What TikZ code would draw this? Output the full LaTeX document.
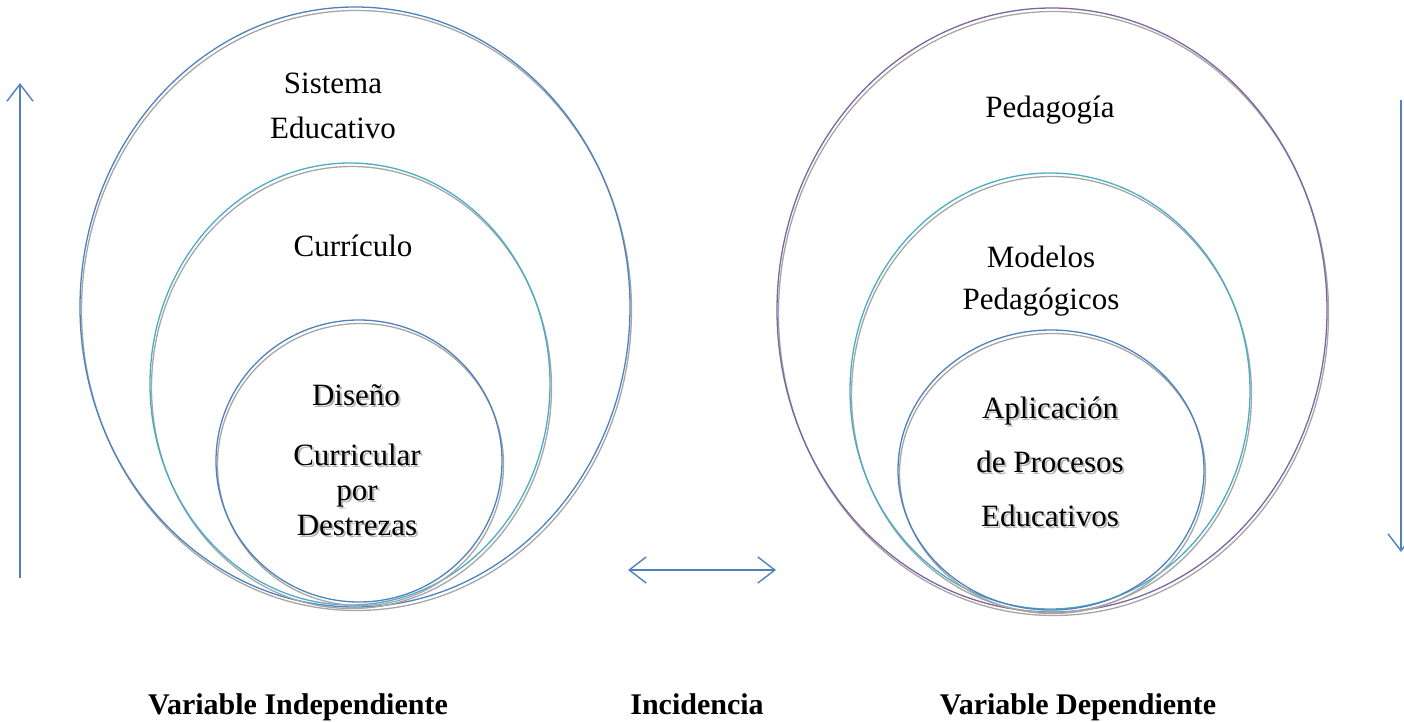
\documentclass[tikz,border=0pt]{standalone}
\usepackage{fontspec}
\setmainfont{Liberation Serif}
\usepackage{tikz}
\usetikzlibrary{
	arrows.meta,
	shapes.geometric
}

\definecolor{ringblue}{HTML}{4F81BD}
\definecolor{ringteal}{HTML}{4BACC6}
\definecolor{ringpurple}{HTML}{8064A2}
\definecolor{ringgray}{HTML}{A6A6A6}

\newcommand{\shadowed}[1]{%
	\makebox[0pt][l]{\raisebox{-2.5pt}{\hspace{2pt}\textcolor{ringgray!80}{#1}}}#1}

\begin{document}
\begin{tikzpicture} [
		x = 1pt,
		y = -1pt,
		ring/.style = {
			ellipse,
			draw,
			line width = 1.3pt,
			inner sep = 0pt,
			preaction = {
				draw = ringgray,
				line width = 1.3pt,
				transform canvas = {shift = {(1.5pt,-3.5pt)}}
			}
		},
		label-text/.style = {
			font = \fontsize{31}{45}\selectfont,
			align = center,
			inner sep = 0pt
		},
		caption/.style = {
			font = \fontsize{30}{36}\selectfont\bfseries,
			inner sep = 0pt,
			anchor = base
		},
		barb/.tip = {Straight Barb[length = 17pt, width = 26pt, line width = 1.4pt]},
		line/.style = {
			draw = ringblue,
			line width = 1.4pt,
			-barb
		}
	]

	\useasboundingbox (0,0) rectangle (1404,722);

	% independent side
	\node[ring, ringblue, minimum width = 550pt, minimum height = 600pt] (sys) at (355,307) {};
	\node[ring, ringteal, minimum width = 400pt, minimum height = 442pt] (cur) at (350,384) {};
	\node[ring, ringblue, minimum width = 286pt, minimum height = 282pt] (dis) at (359,461) {};

	\node[label-text] (sys-t) at (333,106) {Sistema\\Educativo};
	\node[label-text] (cur-t) at (353,246) {Currículo};
	\node[label-text] (dis-t) at (356,396) {\shadowed{Diseño}};
	\node[label-text, font = \fontsize{31}{35}\selectfont] (dis-t2) at (357,491)
		{\shadowed{Curricular}\\\shadowed{por}\\\shadowed{Destrezas}};

	% dependent side
	\node[ring, ringpurple, minimum width = 550pt, minimum height = 604pt] (ped) at (1052,310) {};
	\node[ring, ringteal, minimum width = 400pt, minimum height = 436pt] (mod) at (1050,391) {};
	\node[ring, ringblue, minimum width = 306pt, minimum height = 280pt] (apl) at (1051,470) {};

	\node[label-text] (ped-t) at (1050,110) {Pedagogía};
	\node[label-text, font = \fontsize{31}{42}\selectfont] (mod-t) at (1041,281) {Modelos\\Pedagógicos};
	\node[label-text, font = \fontsize{31}{54}\selectfont] (apl-t) at (1050,463)
		{\shadowed{Aplicación}\\\shadowed{de Procesos}\\\shadowed{Educativos}};

	% captions
	\node[caption] (indep) at (298,714) {Variable Independiente};
	\node[caption] (inc) at (697,714) {Incidencia};
	\node[caption] (dep) at (1078,714) {Variable Dependiente};

	% arrows
	\coordinate (up-a) at (20,578);
	\coordinate (up-b) at (20,83);
	\coordinate (down-a) at (1401,100);
	\coordinate (down-b) at (1401,552);
	\coordinate (inc-a) at (628,570);
	\coordinate (inc-b) at (776,570);

	\path[line] (up-a) -- (up-b);
	\path[line] (down-a) -- (down-b);
	\path[line, barb-barb] (inc-a) -- (inc-b);
\end{tikzpicture}
\end{document}
